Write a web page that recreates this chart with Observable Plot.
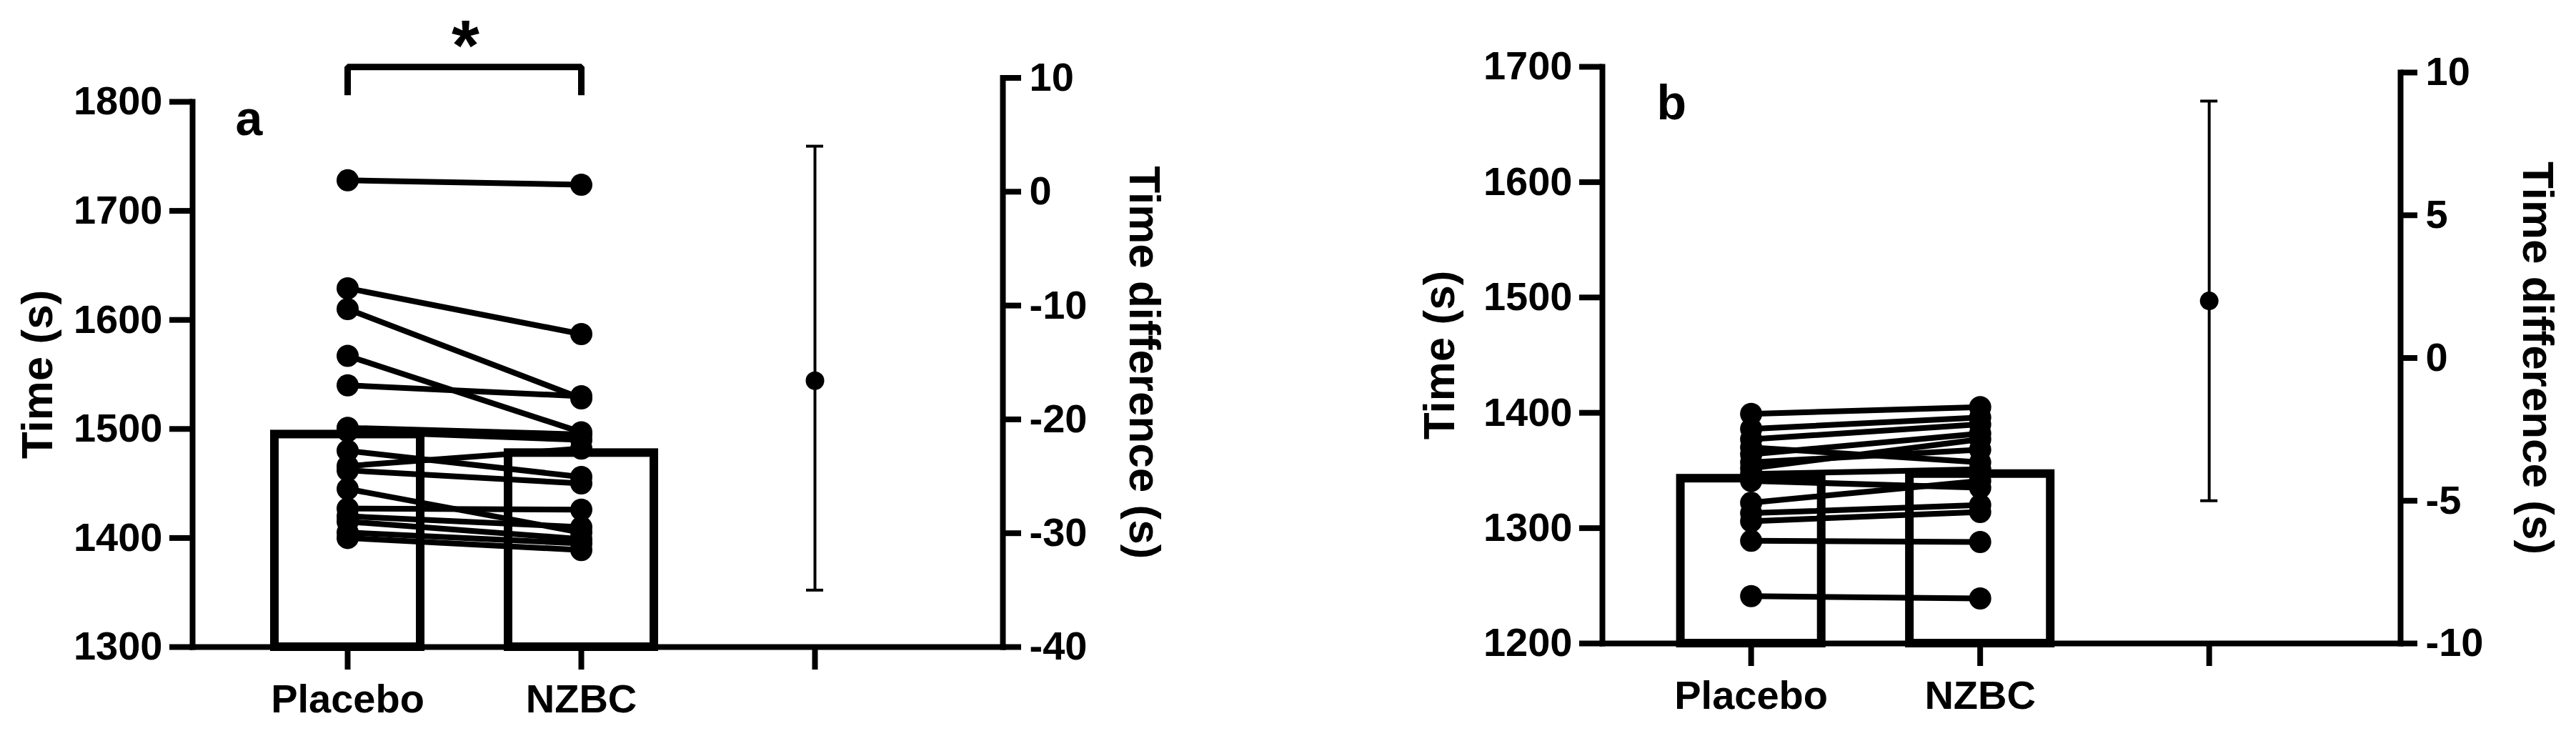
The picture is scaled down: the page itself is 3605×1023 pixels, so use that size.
<!DOCTYPE html>
<html>
<head>
<meta charset="utf-8">
<script src="https://cdn.jsdelivr.net/npm/d3@7"></script>
<script src="https://cdn.jsdelivr.net/npm/@observablehq/plot@0.6"></script>
<style>
  html, body { margin: 0; padding: 0; background: #ffffff; }
  #chart { position: relative; width: 3605px; height: 1023px; overflow: hidden; background: #ffffff; }
  #chart svg { position: absolute; left: 0; top: 0; }
</style>
</head>
<body>
<div id="chart"></div>
<script>
// ---------------- data ----------------
const categories = ["Placebo", "NZBC"];
const diffKey = "Difference";           // third x position (unlabelled)

// Panel a: individual times (s), paired by index
const placeboA = [1728, 1629, 1610, 1567, 1540, 1501, 1498, 1480, 1466, 1462, 1445, 1427, 1420, 1415, 1405, 1400];
const nzbcA    = [1724, 1587, 1528, 1497, 1530, 1495, 1490, 1456, 1482, 1450, 1405, 1426, 1410, 1399, 1395, 1389];
const meansA   = [1495, 1478];          // bar heights: Placebo, NZBC
const diffA    = [-16.6, -35, 4];       // mean difference, lower CI, upper CI
const ticksLeftA  = [1300, 1400, 1500, 1600, 1700, 1800];
const ticksRightA = [-40, -30, -20, -10, 0, 10];
const bracketCondA = ["Placebo", "Placebo", "NZBC", "NZBC"];
const bracketValA  = [1806, 1832, 1832, 1806];
const sigMarkA = "*";

// Panel b
const placeboB = [1399, 1386, 1377, 1370, 1364, 1357, 1352, 1347, 1341, 1322, 1313, 1306, 1289, 1241];
const nzbcB    = [1405, 1396, 1390, 1357, 1382, 1368, 1377, 1351, 1335, 1341, 1320, 1314, 1288, 1239];
const meansB   = [1343, 1347];
const diffB    = [2, -5, 9];
const ticksLeftB  = [1200, 1300, 1400, 1500, 1600, 1700];
const ticksRightB = [-10, -5, 0, 5, 10];

const panelTags = ["a", "b"];
const yTitleLeft = "Time (s)";
const yTitleRight = "Time difference (s)";

// ---------------- drawing ----------------
const W = 3605, H = 1023;
const FONT = "'Liberation Sans', Arial, Helvetica, sans-serif";
const chart = document.getElementById("chart");

function longRows(pl, nz) {
  return pl.flatMap((v, i) => [
    {id: i, cond: categories[0], t: v},
    {id: i, cond: categories[1], t: nz[i]}
  ]);
}

function drawPanel(cfg) {
  const xScale = {
    type: "band", domain: [...categories, diffKey],
    paddingInner: cfg.pIn, paddingOuter: cfg.pOut, align: cfg.align, round: false
  };
  const style = {fontFamily: FONT, fontWeight: "bold", fontSize: "56px",
                 background: "transparent", color: "black", overflow: "visible"};
  const common = {width: W, height: H, marginLeft: cfg.left, marginRight: W - cfg.right, style};

  const rows = longRows(cfg.placebo, cfg.nzbc);
  const bars = categories.map((c, i) => ({cond: c, base: cfg.ticksLeft[0], mean: cfg.means[i]}));
  const diffRows = [{cond: diffKey, mean: cfg.diff[0], lo: cfg.diff[1], hi: cfg.diff[2]}];

  const extra = [];
  if (cfg.bracketCond) {
    const br = cfg.bracketCond.map((c, i) => ({cond: c, v: cfg.bracketVal[i]}));
    extra.push(Plot.line(br, {x: "cond", y: "v", stroke: "black", strokeWidth: 9,
                              strokeLinejoin: "miter", strokeLinecap: "butt"}));
    extra.push(Plot.text([cfg.sigMark], {x: () => categories[0], y: () => d3.max(cfg.bracketVal),
                              text: d => d, dx: cfg.starDx, dy: cfg.starDy, fontSize: 100,
                              fontWeight: "bold", lineAnchor: "top", textAnchor: "middle"}));
  }

  const main = Plot.plot({
    ...common,
    marginTop: cfg.topL, marginBottom: H - cfg.base,
    x: xScale,
    y: {domain: [cfg.ticksLeft[0], cfg.ticksLeft[cfg.ticksLeft.length - 1]]},
    marks: [
      Plot.barY(bars, {x: "cond", y1: "base", y2: "mean", fill: "white", stroke: "black", strokeWidth: 12}),
      Plot.line(rows, {x: "cond", y: "t", z: "id", stroke: "black", strokeWidth: 8}),
      Plot.dot(rows, {x: "cond", y: "t", r: 15.5, fill: "black", stroke: "none"}),
      Plot.frame({anchor: "left", stroke: "black", strokeWidth: 8, strokeLinecap: "square"}),
      Plot.frame({anchor: "bottom", stroke: "black", strokeWidth: 8}),
      Plot.axisY({ticks: cfg.ticksLeft, tickSize: 32, tickPadding: 10, strokeWidth: 8,
                  tickFormat: d => String(d), label: null}),
      Plot.axisX({tickSize: 32, tickPadding: 20, strokeWidth: 8,
                  tickFormat: d => (d === diffKey ? "" : d), label: null}),
      Plot.text([yTitleLeft], {frameAnchor: "left", dx: cfg.titleLdx, rotate: -90, fontSize: 62,
                  fontWeight: "bold", textAnchor: "middle", lineAnchor: "middle"}),
      Plot.text([cfg.tag], {frameAnchor: "top-left", dx: cfg.tagDx, dy: cfg.tagDy, fontSize: 68,
                  fontWeight: "bold", textAnchor: "start", lineAnchor: "top"}),
      ...extra
    ]
  });

  const right = Plot.plot({
    ...common,
    marginTop: cfg.topR, marginBottom: H - cfg.base,
    x: {...xScale, axis: null},
    y: {domain: [cfg.ticksRight[0], cfg.ticksRight[cfg.ticksRight.length - 1]]},
    marks: [
      Plot.ruleX(diffRows, {x: "cond", y1: "lo", y2: "hi", stroke: "black", strokeWidth: 4}),
      Plot.tickY(diffRows, {x: "cond", y: "lo", stroke: "black", strokeWidth: 4,
                  insetLeft: cfg.capInset, insetRight: cfg.capInset}),
      Plot.tickY(diffRows, {x: "cond", y: "hi", stroke: "black", strokeWidth: 4,
                  insetLeft: cfg.capInset, insetRight: cfg.capInset}),
      Plot.dot(diffRows, {x: "cond", y: "mean", r: 13, fill: "black", stroke: "none"}),
      Plot.frame({anchor: "right", stroke: "black", strokeWidth: 8, strokeLinecap: "square"}),
      Plot.axisY({anchor: "right", ticks: cfg.ticksRight, tickSize: cfg.rTick, tickPadding: 12, strokeWidth: 8,
                  tickFormat: d => String(d), label: null}),
      Plot.text([yTitleRight], {frameAnchor: "right", dx: cfg.titleRdx, rotate: 90, fontSize: 62,
                  fontWeight: "bold", textAnchor: "middle", lineAnchor: "middle"})
    ]
  });

  chart.appendChild(main);
  chart.appendChild(right);
}

drawPanel({
  placebo: placeboA, nzbc: nzbcA, means: meansA, diff: diffA,
  ticksLeft: ticksLeftA, ticksRight: ticksRightA, tag: panelTags[0],
  left: 269, right: 1403, topL: 142, topR: 108.5, base: 905,
  pIn: 0.376, pOut: 0.422, align: 0.4167, capInset: 90, rTick: 25,
  titleLdx: -216, titleRdx: 197, tagDx: 60, tagDy: -2,
  bracketCond: bracketCondA, bracketVal: bracketValA, sigMark: sigMarkA, starDx: 165, starDy: -67
});

drawPanel({
  placebo: placeboB, nzbc: nzbcB, means: meansB, diff: diffB,
  ticksLeft: ticksLeftB, ticksRight: ticksRightB, tag: panelTags[1],
  left: 2242, right: 3359, topL: 93, topR: 101, base: 900,
  pIn: 0.385, pOut: 0.435, align: 0.393, capInset: 86.5, rTick: 23,
  titleLdx: -227, titleRdx: 191, tagDx: 76, tagDy: 25
});
</script>
</body>
</html>
